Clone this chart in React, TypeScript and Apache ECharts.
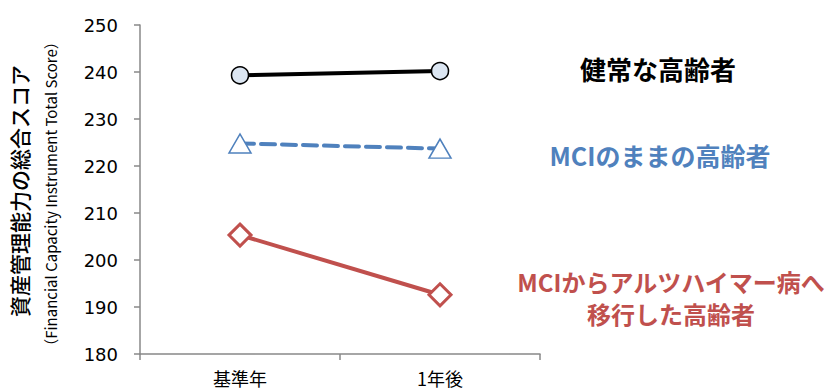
import React, { useEffect, useRef } from "react";
import * as echarts from "echarts";

const categories = ["基準年", "1年後"];
const healthy = [239.3, 240.2];
const mciStable = [224.8, 223.7];
const mciToAD = [205.3, 192.6];
const yTicks = { min: 180, max: 250, interval: 10 };

const labelHealthy = "健常な高齢者";
const labelStable = "MCIのままの高齢者";
const labelAD1 = "MCIからアルツハイマー病へ";
const labelAD2 = "移行した高齢者";
const yTitle = "資産管理能力の総合スコア";
const ySubTitle = "（Financial Capacity Instrument Total Score）";

const BLUE = "#4f81bd";
const RED = "#c0504d";
const CJK = "'Noto Sans CJK JP', 'Noto Sans', sans-serif";
const NUM = "'DejaVu Sans', Verdana, sans-serif";

export default function App() {
  const ref = useRef<HTMLDivElement>(null);
  useEffect(() => {
    if (!ref.current) return;
    const chart = echarts.init(ref.current, undefined, { renderer: "svg" });
    const txt = (x: number, y: number, text: string, font: string, fill: string, rotation = 0, lineHeight?: number) => ({
      type: "text",
      x,
      y,
      rotation,
      style: { text, font, fill, align: "center", verticalAlign: "middle", ...(lineHeight ? { lineHeight } : {}) },
    });
    chart.setOption({
      animation: false,
      grid: { left: 140, right: 287, top: 25, bottom: 38, containLabel: false },
      xAxis: {
        type: "category",
        data: categories,
        boundaryGap: true,
        axisLine: { lineStyle: { color: "#888", width: 1.5 } },
        axisTick: { show: true, length: 6, lineStyle: { color: "#888", width: 1.5 } },
        axisLabel: { color: "#000", fontSize: 18, fontFamily: CJK, margin: 15 },
        splitLine: { show: false },
      },
      yAxis: {
        type: "value",
        min: yTicks.min,
        max: yTicks.max,
        interval: yTicks.interval,
        axisLine: { show: true, lineStyle: { color: "#888", width: 1.5 } },
        axisTick: { show: true, length: 6, lineStyle: { color: "#888", width: 1.5 } },
        axisLabel: { color: "#000", fontSize: 18, fontFamily: NUM, margin: 22 },
        splitLine: { show: false },
      },
      series: [
        {
          type: "line",
          data: healthy,
          symbol: "circle",
          symbolSize: 17,
          lineStyle: { color: "#000", width: 4 },
          itemStyle: { color: "#dce6f2", borderColor: "#000", borderWidth: 1.5 },
          z: 3,
        },
        {
          type: "line",
          data: mciStable,
          symbol: "triangle",
          symbolSize: [22, 19],
          lineStyle: { color: BLUE, width: 4, type: [14, 7], cap: "round" },
          itemStyle: { color: "#fff", borderColor: BLUE, borderWidth: 1.5 },
          z: 3,
        },
        {
          type: "line",
          data: mciToAD,
          symbol: "diamond",
          symbolSize: [22, 22],
          lineStyle: { color: RED, width: 4 },
          itemStyle: { color: "#fff", borderColor: RED, borderWidth: 3 },
          z: 3,
        },
      ],
      graphic: [
        txt(19, 191, yTitle, `500 21px ${CJK}`, "#000", Math.PI / 2),
        txt(50, 194, ySubTitle, `15px ${CJK}`, "#000", Math.PI / 2),
        txt(658, 68, labelHealthy, `bold 26px ${CJK}`, "#000"),
        txt(660, 155, labelStable, `bold 25px ${CJK}`, BLUE),
        txt(671, 281, labelAD1, `bold 24px ${CJK}`, RED, 0, 26),
        txt(671, 313, labelAD2, `bold 24px ${CJK}`, RED, 0, 26),
      ],
    });
    return () => chart.dispose();
  }, []);
  return <div ref={ref} style={{ width: 827, height: 392, position: "absolute", left: 0, top: 0, background: "#fff" }} />;
}
